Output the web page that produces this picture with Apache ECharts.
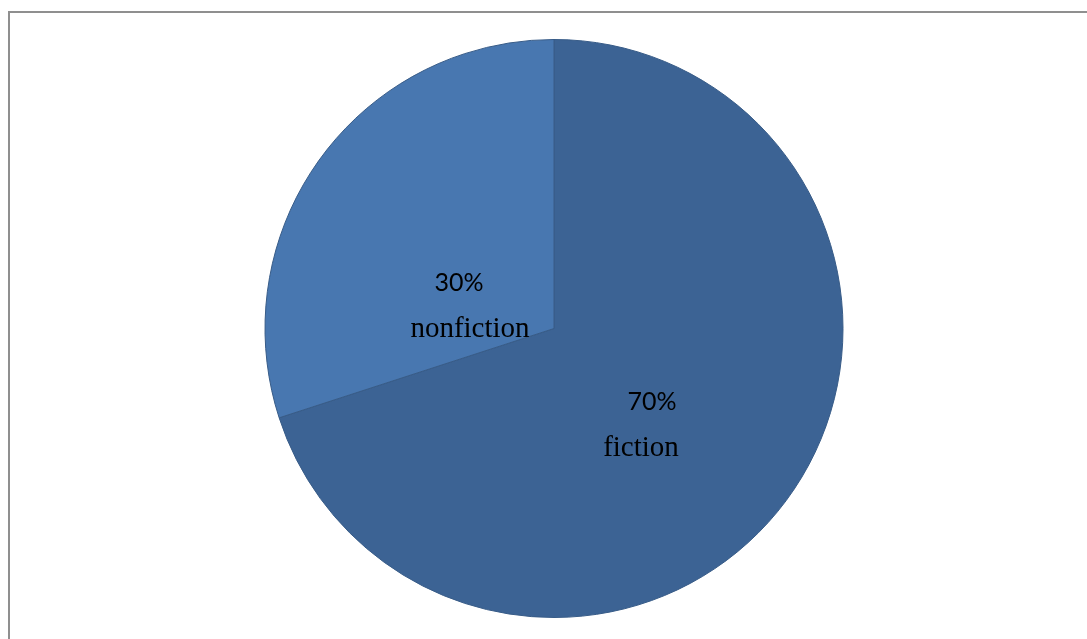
<!DOCTYPE html>
<html>
<head>
<meta charset="utf-8">
<script src="https://cdn.jsdelivr.net/npm/echarts@6/dist/echarts.min.js"></script>
<style>html,body{margin:0;padding:0;background:#fff;}#c{width:1087px;height:639px;}</style>
</head>
<body>
<div id="c"></div>
<script>
var categories = ['fiction', 'nonfiction'];
var values = [70, 30];

var colors = ['#3C6394', '#4877B0'];
var labelCenters = [[641, 425], [470, 306]];
var pctPad = [[0, 0, 0, 22], [0, 22, 0, 0]];

var chart = echarts.init(document.getElementById('c'), null, {renderer: 'canvas'});
chart.setOption({
  backgroundColor: '#ffffff',
  animation: false,
  graphic: [{
    type: 'rect',
    shape: {x: 9, y: 12, width: 2000, height: 2000},
    style: {fill: 'none', stroke: '#8f8f8f', lineWidth: 2},
    silent: true, z: 0
  }],
  series: [{
    type: 'pie',
    center: [554, 328.5],
    radius: 289,
    startAngle: 90,
    clockwise: true,
    data: categories.map(function (c, i) {
      return {
        name: c, value: values[i],
        itemStyle: {color: colors[i]},
        label: {rich: {p: {padding: pctPad[i], fontFamily: 'Lato', fontSize: 25, color: '#000', lineHeight: 46},
                       n: {fontFamily: 'Liberation Serif', fontSize: 29, color: '#000', lineHeight: 46}}}
      };
    }),
    itemStyle: {borderColor: '#385C88', borderWidth: 1},
    label: {
      show: true,
      position: 'inside',
      align: 'center',
      formatter: function (p) { return '{p|' + Math.round(p.percent) + '%}\n{n|' + p.name + '}'; }
    },
    labelLayout: function (params) {
      var c = labelCenters[params.dataIndex];
      return {x: c[0], y: c[1], align: 'center', verticalAlign: 'middle'};
    },
    labelLine: {show: false},
    emphasis: {disabled: true}
  }]
});
</script>
</body>
</html>
